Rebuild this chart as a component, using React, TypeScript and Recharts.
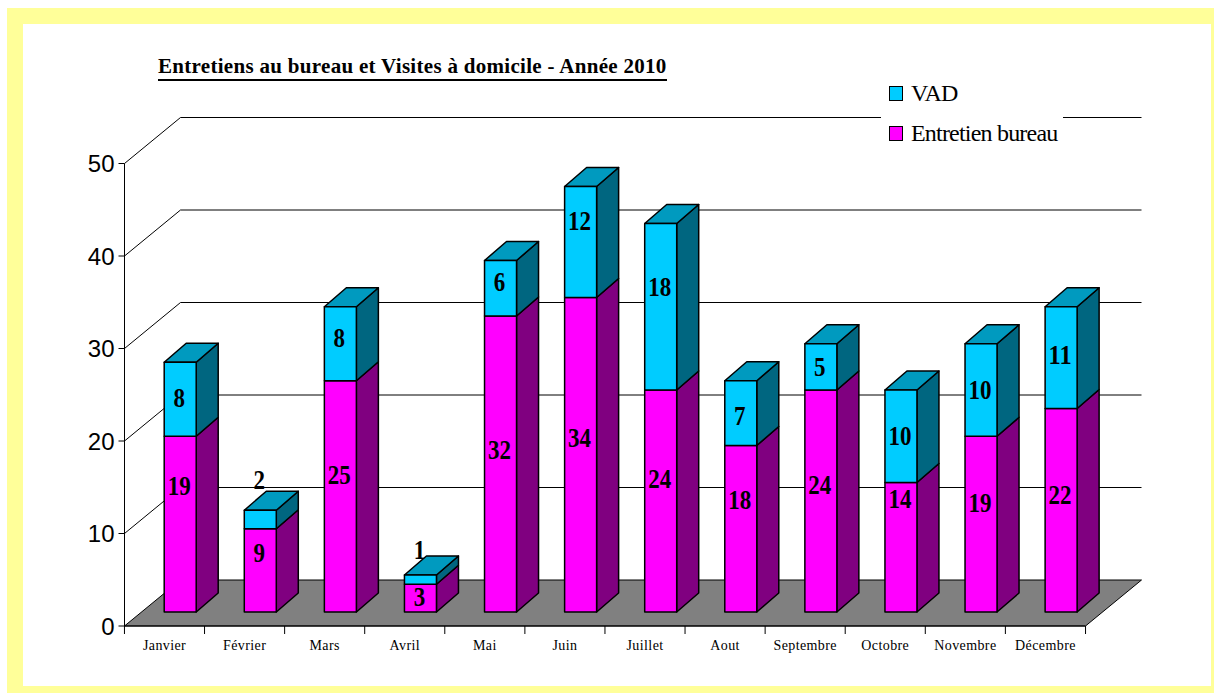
import { BarChart, Bar, XAxis, YAxis, CartesianGrid, Legend, LabelList } from "recharts";

const months = ["Janvier", "Février", "Mars", "Avril", "Mai", "Juin", "Juillet", "Aout", "Septembre", "Octobre", "Novembre", "Décembre"];
const bureau = [19, 9, 25, 3, 32, 34, 24, 18, 24, 14, 19, 22];
const vad = [8, 2, 8, 1, 6, 12, 18, 7, 5, 10, 10, 11];
const yTicks = [0, 10, 20, 30, 40, 50];

// the labels were placed by hand in the original, not centred in the segments
const bureauNudge = [-38, -17, -21, -1, -14, -17, -22, -29, -16, -48, -21, -15];
const vadNudge = [-1, -40, -6, -30, -6, -21, -20, 3, 0, 0, 0, -3];

const data = months.map((month, i) => ({ month, bureau: bureau[i], vad: vad[i] }));

const SERIF = "'Liberation Serif', serif";
const SANS = "'Liberation Sans', sans-serif";

// wall / floor depth of the fake 3D box
const WALL_DX = 56;
const WALL_DY = 46;
// bars sit a little inside the floor
const BAR_DX = 15.7;
const BAR_DY = 14;
// depth of a bar
const DEPTH_X = 22;
const DEPTH_Y = 19;

function Bar3D({ x, y, width, height, front, side, top }: any) {
  const l = x + BAR_DX;
  const r = l + width;
  const t = y - BAR_DY;
  const b = t + height;
  return (
    <g stroke="#000" strokeWidth={1.5} strokeLinejoin="round">
      <polygon points={`${r},${t} ${r + DEPTH_X},${t - DEPTH_Y} ${r + DEPTH_X},${b - DEPTH_Y} ${r},${b}`} fill={side} />
      {top && <polygon points={`${l},${t} ${l + DEPTH_X},${t - DEPTH_Y} ${r + DEPTH_X},${t - DEPTH_Y} ${r},${t}`} fill={top} />}
      <rect x={l} y={t} width={width} height={height} fill={front} />
    </g>
  );
}

// digits in the original are tall and narrow, hence the squeezed textLength
function segmentLabel(nudges: number[]) {
  return ({ x, y, width, height, value, index }: any) => (
    <text
      x={x + BAR_DX + width / 2 - 1}
      y={y - BAR_DY + height / 2 + nudges[index]}
      textAnchor="middle"
      dominantBaseline="central"
      fontFamily={SERIF}
      fontWeight="bold"
      fontSize={27}
      textLength={String(value).length * 11.5}
      lengthAdjust="spacingAndGlyphs"
      fill="#000"
    >
      {value}
    </text>
  );
}

function GridLine(p: any) {
  const { x1, y1, x2 } = p;
  const isFloor = Math.abs(y1 - (p.y + p.height)) < 1;
  if (isFloor) {
    return (
      <polygon
        key={p.key}
        points={`${x1},${y1} ${x1 + WALL_DX},${y1 - WALL_DY} ${x2 + WALL_DX},${y1 - WALL_DY} ${x2},${y1}`}
        fill="#808080"
        stroke="#000"
        strokeWidth={1}
      />
    );
  }
  return (
    <path
      key={p.key}
      d={`M${x1},${y1} L${x1 + WALL_DX},${y1 - WALL_DY} L${x2 + WALL_DX},${y1 - WALL_DY}`}
      fill="none"
      stroke="#000"
      strokeWidth={1}
    />
  );
}

function MonthTick({ x, y, payload, index }: any) {
  const half = 40.08;
  return (
    <g>
      <line x1={x - half} y1={y - 8} x2={x - half} y2={y} stroke="#000" />
      {index === months.length - 1 && <line x1={x + half} y1={y - 8} x2={x + half} y2={y} stroke="#000" />}
      <text x={x} y={y + 16} textAnchor="middle" fontFamily={SERIF} fontSize={14} letterSpacing={0.4} fill="#000">
        {payload.value}
      </text>
    </g>
  );
}

function LegendBox() {
  const items = [
    { name: "VAD", color: "#00CCFF" },
    { name: "Entretien bureau", color: "#FF00FF" },
  ];
  return (
    <div style={{ background: "#fff", width: 182, height: 76, paddingLeft: 8, boxSizing: "border-box" }}>
      {items.map((it) => (
        <div key={it.name} style={{ display: "flex", alignItems: "center", height: 40, fontFamily: SERIF, fontSize: 24, letterSpacing: -0.8, color: "#000", whiteSpace: "nowrap" }}>
          <span style={{ width: 12, height: 13, background: it.color, border: "1.5px solid #000", marginRight: 8, display: "inline-block" }} />
          {it.name}
        </div>
      ))}
    </div>
  );
}

export default function App() {
  return (
    <div style={{ position: "absolute", left: 0, top: 0, width: 1214, height: 693, background: "#fff", overflow: "hidden" }}>
      <div style={{ position: "absolute", left: 7, top: 8, width: 1207, height: 685, background: "#FFFF99" }} />
      <div style={{ position: "absolute", left: 23, top: 24, width: 1188, height: 662, background: "#fff" }} />
      <div
        style={{
          position: "absolute",
          left: 158,
          top: 53,
          width: 509,
          height: 26,
          borderBottom: "2px solid #000",
          fontFamily: SERIF,
          fontWeight: "bold",
          fontSize: 21,
          lineHeight: "26px",
          letterSpacing: 0.3,
          whiteSpace: "nowrap",
          color: "#000",
        }}
      >
        Entretiens au bureau et Visites à domicile - Année 2010
      </div>
      <div style={{ position: "absolute", left: 0, top: 0 }}>
        <BarChart width={1214} height={693} data={data} margin={{ top: 163.5, right: 128.5, left: 0, bottom: 27 }} barSize={32}>
          <CartesianGrid vertical={false} horizontal={GridLine as any} />
          <XAxis dataKey="month" height={40} interval={0} axisLine={{ stroke: "#000" }} tickLine={false} tick={<MonthTick />} />
          <YAxis
            width={124.5}
            domain={[0, 50]}
            ticks={yTicks}
            tickSize={6}
            tickMargin={4}
            axisLine={{ stroke: "#000" }}
            tickLine={{ stroke: "#000" }}
            tick={{ fontFamily: SANS, fontSize: 24, fill: "#000" }}
          />
          {/* horizontal + middle + center keeps the legend from reserving space in the plot */}
          <Legend
            layout="horizontal"
            verticalAlign="middle"
            align="center"
            content={<LegendBox />}
            wrapperStyle={{ position: "absolute", left: 881, top: 73, width: 182 }}
          />
          <Bar
            dataKey="bureau"
            name="Entretien bureau"
            stackId="a"
            isAnimationActive={false}
            shape={(p: any) => <Bar3D {...p} front="#FF00FF" side="#800080" />}
          >
            <LabelList dataKey="bureau" content={segmentLabel(bureauNudge) as any} />
          </Bar>
          <Bar
            dataKey="vad"
            name="VAD"
            stackId="a"
            isAnimationActive={false}
            shape={(p: any) => <Bar3D {...p} front="#00CCFF" side="#006680" top="#009ABF" />}
          >
            <LabelList dataKey="vad" content={segmentLabel(vadNudge) as any} />
          </Bar>
        </BarChart>
      </div>
    </div>
  );
}
